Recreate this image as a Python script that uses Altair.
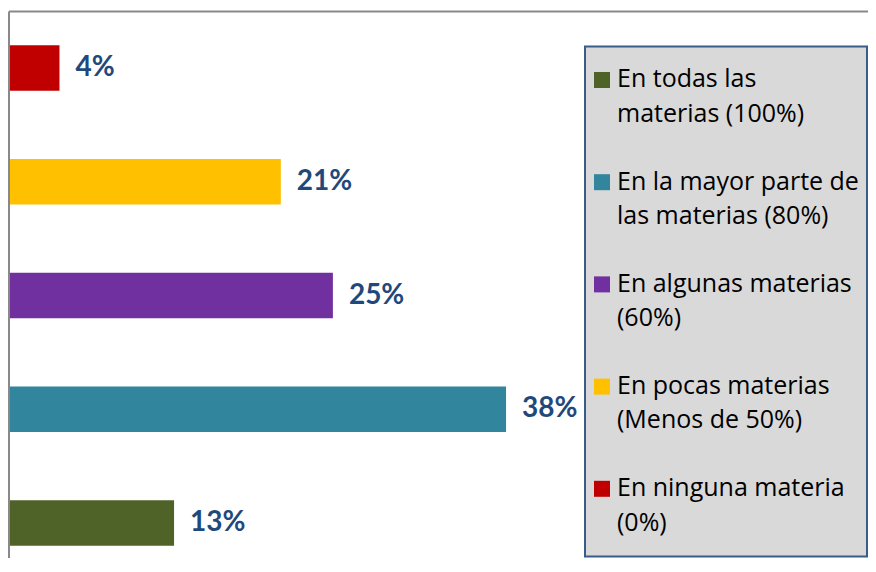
import altair as alt
import pandas as pd

# Bars, top to bottom
categories = [
    "En ninguna materia (0%)",
    "En pocas materias (Menos de 50%)",
    "En algunas materias (60%)",
    "En la mayor parte de las materias (80%)",
    "En todas las materias (100%)",
]
values = [3.8, 20.8, 24.8, 38.1, 12.6]
labels = ["4%", "21%", "25%", "38%", "13%"]
colors = ["#C00000", "#FFC000", "#7030A0", "#31859C", "#4F6228"]

# Legend, top to bottom
legend_order = categories[::-1]
legend_text = [
    "En todas las\nmaterias (100%)",
    "En la mayor parte de\nlas materias (80%)",
    "En algunas materias\n(60%)",
    "En pocas materias\n(Menos de 50%)",
    "En ninguna materia\n(0%)",
]

bars_df = pd.DataFrame({"cat": categories, "value": values, "label": labels})
legend_df = pd.DataFrame({"cat": legend_order, "text": legend_text})
one = pd.DataFrame({"k": [0]})

W, H = 860, 550

color = alt.Color("cat:N", scale=alt.Scale(domain=categories, range=colors), legend=None)
y_bar = alt.Y(
    "cat:N",
    sort=categories,
    axis=None,
    scale=alt.Scale(range=[0, 575], paddingInner=0.6, paddingOuter=0.3275),
)
x_bar = alt.X("value:Q", axis=None, scale=alt.Scale(domain=[-0.154, 65.9], nice=False, zero=False))

bars = alt.Chart(bars_df).mark_bar().encode(x=x_bar, y=y_bar, color=color)
bar_labels = alt.Chart(bars_df).mark_text(
    align="left", baseline="middle", dx=16, font="Lato", fontWeight="bold",
    fontSize=28, color="#1F497D",
).encode(x=x_bar, y=y_bar, text="label:N")

frame_top = alt.Chart(one).mark_rule(color="#898989", strokeWidth=2).encode(
    x=alt.value(1), x2=alt.value(W), y=alt.value(3.5)
)
frame_left = alt.Chart(one).mark_rule(color="#898989", strokeWidth=2).encode(
    x=alt.value(1), y=alt.value(3.5), y2=alt.value(H)
)

legend_box = alt.Chart(one).mark_rect(
    fill="#D9D9D9", stroke="#385D8A", strokeWidth=2
).encode(x=alt.value(577), x2=alt.value(859), y=alt.value(38.5), y2=alt.value(548.5))

y_leg = alt.Y(
    "cat:N",
    sort=legend_order,
    axis=None,
    scale=alt.Scale(type="point", range=[72, 480.8], padding=0),
)
leg_squares = alt.Chart(legend_df).mark_square(size=256, opacity=1).encode(
    x=alt.value(594), y=y_leg, color=color
)
leg_texts = alt.Chart(legend_df).mark_text(
    align="left", baseline="alphabetic", dy=7.3, lineBreak="\n", lineHeight=34.5,
    font="Open Sans", fontSize=25, color="#000000",
).encode(x=alt.value(609), y=y_leg, text="text:N")

chart = (
    alt.layer(
        frame_top, frame_left,
        alt.layer(bars, bar_labels),
        legend_box,
        alt.layer(leg_squares, leg_texts),
    )
    .resolve_scale(y="independent")
    .properties(width=W, height=H, padding=0, autosize=alt.AutoSizeParams(type="none"), background="white")
    .configure_view(stroke=None)
)

chart.save("out.html", embed_options={"renderer": "svg", "actions": False})
